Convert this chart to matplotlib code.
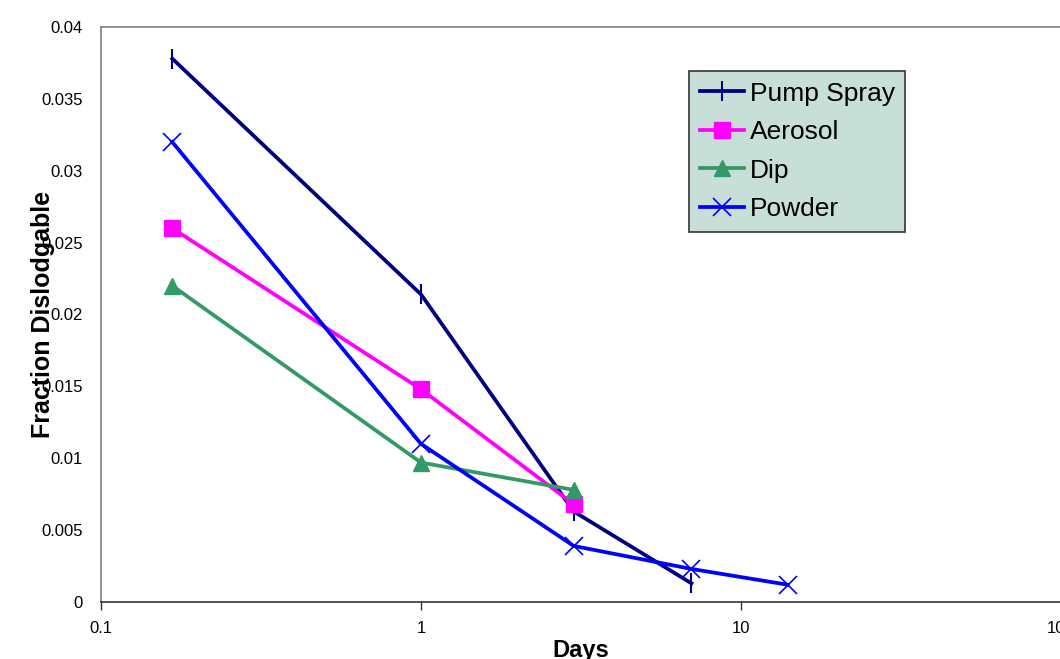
import matplotlib
matplotlib.use("Agg")
import matplotlib.pyplot as plt
from matplotlib.ticker import FixedLocator, FixedFormatter, NullLocator
from matplotlib.lines import Line2D

plt.rcParams['font.family'] = ['Liberation Sans', 'DejaVu Sans']

pump_days = [0.167, 1, 3, 7]
pump_vals = [0.0378, 0.0214, 0.0063, 0.0013]
aerosol_days = [0.167, 1, 3]
aerosol_vals = [0.026, 0.0148, 0.0068]
dip_days = [0.167, 1, 3]
dip_vals = [0.022, 0.0097, 0.0078]
powder_days = [0.167, 1, 3, 7, 14]
powder_vals = [0.032, 0.011, 0.0039, 0.0023, 0.0012]

xticks = [0.1, 1, 10, 100]
xticklabels = ['0.1', '1', '10', '100']
yticks = [0, 0.005, 0.01, 0.015, 0.02, 0.025, 0.03, 0.035, 0.04]
yticklabels = ['0', '0.005', '0.01', '0.015', '0.02', '0.025', '0.03', '0.035', '0.04']

fig = plt.figure(figsize=(10.6, 6.59), dpi=100)
ax = fig.add_axes([101/1060, 1 - 602/659, 960/1060, (602 - 27)/659])

lw = 2.7
c_pump, c_aer, c_dip, c_pow = '#000080', '#FF00FF', '#339966', '#0000FF'
ax.plot(pump_days, pump_vals, color=c_pump, lw=lw, marker='|', ms=14, mew=1.5, zorder=3)
ax.plot(aerosol_days, aerosol_vals, color=c_aer, lw=lw, marker='s', ms=12, zorder=3)
ax.plot(dip_days, dip_vals, color=c_dip, lw=lw, marker='^', ms=12, zorder=3)
ax.plot(powder_days, powder_vals, color=c_pow, lw=lw, marker='x', ms=13, mew=1.2, zorder=3)

handles = [
    Line2D([], [], color=c_pump, lw=lw, marker='+', ms=14, mew=1.5),
    Line2D([], [], color=c_aer, lw=lw, marker='s', ms=12),
    Line2D([], [], color=c_dip, lw=lw, marker='^', ms=12),
    Line2D([], [], color=c_pow, lw=lw, marker='x', ms=13, mew=1.2),
]
labels = ['Pump Spray', 'Aerosol', 'Dip', 'Powder']

ax.set_xscale('log')
ax.set_xlim(0.1, 100)
ax.set_ylim(0, 0.04)
ax.xaxis.set_major_locator(FixedLocator(xticks))
ax.xaxis.set_major_formatter(FixedFormatter(xticklabels))
ax.xaxis.set_minor_locator(NullLocator())
ax.set_yticks(yticks)
ax.set_yticklabels(yticklabels)
ax.tick_params(axis='x', direction='out', length=6, width=1, labelsize=12, pad=8, color='#333333')
ax.tick_params(axis='y', length=0, labelsize=12, pad=13)

for s in ['top', 'left', 'right']:
    ax.spines[s].set_color('#808080')
    ax.spines[s].set_linewidth(1.2)
ax.spines['bottom'].set_color('#333333')
ax.spines['bottom'].set_linewidth(1.2)

ax.set_xlabel('Days', fontsize=17, fontweight='bold', labelpad=2)
ax.set_ylabel('Fraction Dislodgable', fontsize=18, fontweight='bold', labelpad=-10)

leg = ax.legend(handles, labels, loc='upper left',
                bbox_to_anchor=((689 - 101) / 960, (602 - 71) / 575),
                fontsize=19, frameon=True, fancybox=False, facecolor='#C8DFD8',
                edgecolor='#333333', framealpha=1, handlelength=1.7, handletextpad=0.2,
                labelspacing=0.55, borderpad=0.4, borderaxespad=0)
leg.get_frame().set_linewidth(1.2)

fig.savefig('out.png', dpi=100)
